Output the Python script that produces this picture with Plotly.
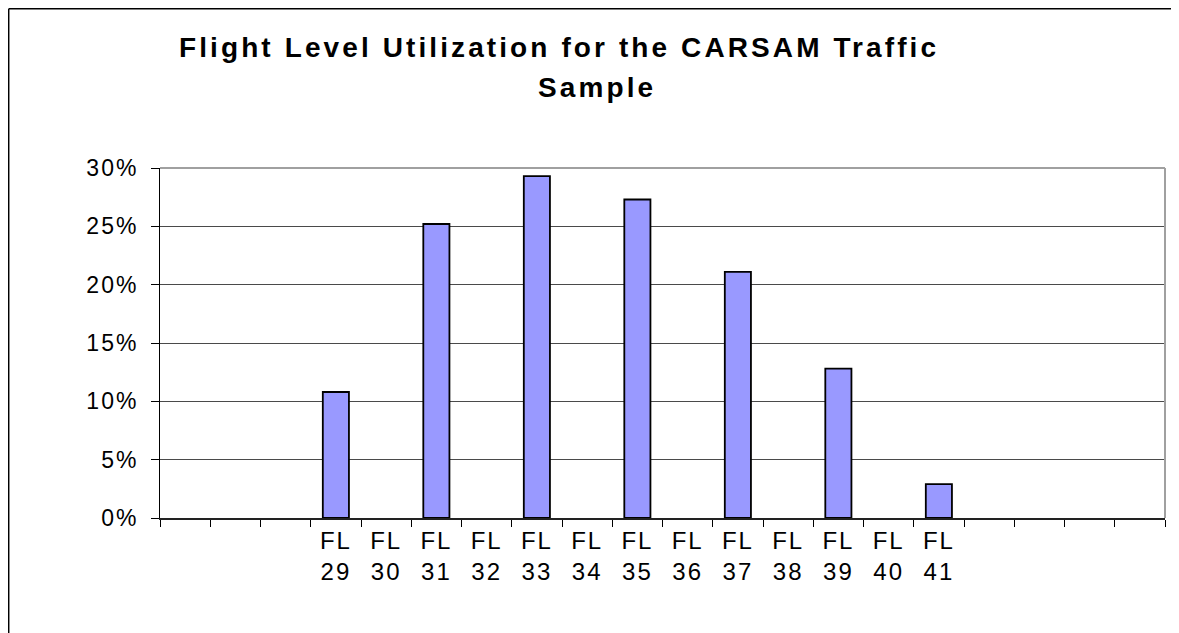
import plotly.graph_objects as go

# Data
categories = ["pad1", "pad2", "pad3",
              "FL 29", "FL 30", "FL 31", "FL 32", "FL 33", "FL 34", "FL 35",
              "FL 36", "FL 37", "FL 38", "FL 39", "FL 40", "FL 41",
              "pad4", "pad5", "pad6", "pad7"]
level_prefix = ["", "", "",
                "FL", "FL", "FL", "FL", "FL", "FL", "FL",
                "FL", "FL", "FL", "FL", "FL", "FL",
                "", "", "", ""]
level_numbers = ["", "", "",
                 "29", "30", "31", "32", "33", "34", "35",
                 "36", "37", "38", "39", "40", "41",
                 "", "", "", ""]
utilization = [None, None, None,
               0.108, 0.0, 0.252, 0.0, 0.293, 0.0, 0.273,
               0.0, 0.211, 0.0, 0.128, 0.0, 0.029,
               None, None, None, None]
y_ticks = [0, 0.05, 0.10, 0.15, 0.20, 0.25, 0.30]
y_tick_labels = ["0%", "5%", "10%", "15%", "20%", "25%", "30%"]
title_line1 = "Flight Level Utilization for the CARSAM Traffic"
title_line2 = "Sample"

# Page body has an 8px margin, so figure coordinates = reference pixels - 8
OFF = 8
W, H = 1179 - OFF, 633 - OFF
L, R, T, B = 160 - OFF, 1165 - OFF, 168 - OFF, 518 - OFF
pw, ph = R - L, B - T


def px_x(px):
    return (px - OFF - L) / pw


def px_y(py):
    return (B - (py - OFF)) / ph


def spaced(s, sp):
    return f'<span style="letter-spacing:{sp}px">{s}</span>' if s else ""


x_tick_text = [
    (spaced(a, 2) + "<br>" + spaced(b, 2)) if a else ""
    for a, b in zip(level_prefix, level_numbers)
]
y_tick_text = [spaced(t, 2) for t in y_tick_labels]
line_widths = [1.8 if v else 0 for v in [u or 0 for u in utilization]]

fig = go.Figure()
fig.add_trace(go.Bar(
    x=categories, y=utilization,
    marker=dict(color="#9999FF", line=dict(color="black", width=line_widths)),
    hoverinfo="y",
))

font = "Liberation Sans, Arial, sans-serif"

fig.update_layout(
    width=W, height=H,
    margin=dict(l=L, r=W - R, t=T, b=H - B, pad=0),
    paper_bgcolor="white", plot_bgcolor="white",
    showlegend=False,
    bargap=0.48,
    font=dict(family=font, size=22, color="black"),
    xaxis=dict(
        type="category",
        tickmode="array", tickvals=categories, ticktext=x_tick_text,
        tickson="boundaries", ticks="outside", ticklen=7, tickwidth=1,
        tickcolor="black",
        showline=True, linecolor="#222", linewidth=2,
        showgrid=False, range=[-0.5, 19.5],
        tickfont=dict(size=24),
    ),
    yaxis=dict(
        range=[0, 0.30], tickmode="array", tickvals=y_ticks, ticktext=y_tick_text,
        ticks="outside", ticklen=8, tickcolor="black", tickwidth=1,
        ticklabelstandoff=8,
        showline=True, linecolor="black", linewidth=1,
        showgrid=True, gridcolor="#4a4a4a", gridwidth=1,
        zeroline=False,
        tickfont=dict(size=23),
    ),
    shapes=[
        # plot area border (right / top)
        dict(type="line", xref="paper", yref="paper", x0=1, x1=1, y0=0, y1=1,
             line=dict(color="#a0a0a0", width=2)),
        dict(type="line", xref="paper", yref="paper", x0=0, x1=1, y0=1, y1=1,
             line=dict(color="#a0a0a0", width=2)),
        # chart frame (top / left)
        dict(type="line", xref="paper", yref="paper",
             x0=px_x(OFF + 0.7), x1=px_x(1179 + 20), y0=px_y(OFF + 0.7), y1=px_y(OFF + 0.7),
             line=dict(color="black", width=1.5)),
        dict(type="line", xref="paper", yref="paper",
             x0=px_x(OFF + 0.7), x1=px_x(OFF + 0.7), y0=px_y(OFF + 0.7), y1=px_y(633 + 20),
             line=dict(color="black", width=1.5)),
    ],
    annotations=[
        dict(text="<b>" + spaced(title_line1, 3.1) + "</b>",
             xref="paper", yref="paper", x=px_x(559), y=px_y(47),
             xanchor="center", yanchor="middle", showarrow=False,
             font=dict(family=font, size=28, color="black")),
        dict(text="<b>" + spaced(title_line2, 3.1) + "</b>",
             xref="paper", yref="paper", x=px_x(597), y=px_y(88),
             xanchor="center", yanchor="middle", showarrow=False,
             font=dict(family=font, size=28, color="black")),
    ],
)

fig.write_html("out.html")
